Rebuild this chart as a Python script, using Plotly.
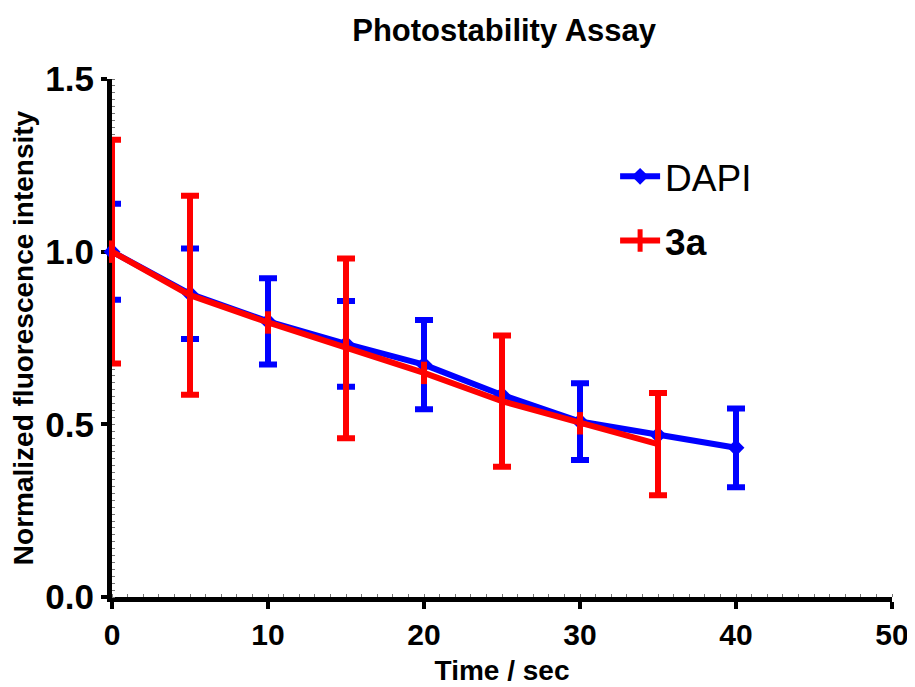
import plotly.graph_objects as go

# Data
time_dapi = [0, 5, 10, 15, 20, 25, 30, 35, 40]
dapi = [1.0, 0.878, 0.798, 0.733, 0.673, 0.585, 0.508, 0.469, 0.432]
dapi_err_time = [0, 5, 10, 15, 20, 30, 40]
dapi_err_mean = [1.0, 0.878, 0.798, 0.733, 0.673, 0.508, 0.432]
dapi_err = [0.139, 0.131, 0.125, 0.124, 0.129, 0.111, 0.114]

time_3a = [0, 5, 10, 15, 20, 25, 30, 35]
a3 = [1.0, 0.874, 0.795, 0.72, 0.649, 0.567, 0.503, 0.443]
a3_err_time = [0, 5, 15, 25, 35]
a3_err_mean = [1.0, 0.874, 0.72, 0.567, 0.443]
a3_err = [0.324, 0.288, 0.26, 0.19, 0.148]

BLUE = "#0000FF"
RED = "#FF0000"
FONT = "Liberation Sans, Arial, sans-serif"

fig = go.Figure()

fig.add_trace(go.Scatter(
    x=dapi_err_time, y=dapi_err_mean, mode="markers",
    marker=dict(size=1, color=BLUE, opacity=0),
    error_y=dict(type="data", array=dapi_err, visible=True, color=BLUE, thickness=6, width=9),
    showlegend=False, hoverinfo="skip", cliponaxis=False))
fig.add_trace(go.Scatter(
    x=time_dapi, y=dapi, mode="lines+markers", name="DAPI",
    line=dict(color=BLUE, width=6),
    marker=dict(symbol="diamond", size=13, color=BLUE),
    legendgroup="g1", cliponaxis=False))

fig.add_trace(go.Scatter(
    x=a3_err_time, y=a3_err_mean, mode="markers",
    marker=dict(size=1, color=RED, opacity=0),
    error_y=dict(type="data", array=a3_err, visible=True, color=RED, thickness=6, width=9),
    showlegend=False, hoverinfo="skip", cliponaxis=False))
fig.add_trace(go.Scatter(
    x=time_3a, y=a3, mode="lines+markers", name="<b>3a</b>",
    line=dict(color=RED, width=6),
    marker=dict(symbol="line-ns", size=16, color=RED, line=dict(color=RED, width=6)),
    legendgroup="g2", cliponaxis=False))

fig.update_layout(
    width=907, height=679,
    paper_bgcolor="white", plot_bgcolor="white",
    margin=dict(l=104, r=23, t=71, b=90),
    title=dict(text="<b>Photostability Assay</b>", x=0.547, xanchor="center",
               y=0.968, yanchor="middle", font=dict(family=FONT, size=31, color="black")),
    font=dict(family=FONT, color="black"),
    showlegend=True,
    legend=dict(x=0.645, y=0.871, xanchor="left", yanchor="top",
                font=dict(family=FONT, size=37, color="black"),
                bgcolor="rgba(0,0,0,0)", tracegroupgap=13,
                itemwidth=40),
)

fig.update_xaxes(
    range=[0, 50], dtick=10, tick0=0, automargin=False, layer="below traces",
    showline=True, linecolor="black", linewidth=5,
    ticks="outside", ticklen=7, tickwidth=4, tickcolor="black",
    showgrid=False, zeroline=False,
    tickfont=dict(family=FONT, size=30, color="black"),
    tickprefix="<b>", ticksuffix="</b>",
    title=dict(text="<b>Time / sec</b>", font=dict(family=FONT, size=28, color="black"), standoff=12),
    minor=dict(dtick=1, ticks="inside", ticklen=3, tickwidth=1, tickcolor="#777"),
)
fig.update_yaxes(
    range=[0, 1.5], dtick=0.5, tick0=0, tickformat=".1f", automargin=False, layer="below traces",
    showline=True, linecolor="black", linewidth=5,
    ticks="outside", ticklen=6, tickwidth=4, tickcolor="black",
    showgrid=False, zeroline=False,
    tickfont=dict(family=FONT, size=35, color="black"),
    tickprefix="<b>", ticksuffix="</b>",
    title=dict(text="<b>Normalized fluorescence intensity</b>", font=dict(family=FONT, size=28, color="black"), standoff=9),
    minor=dict(dtick=0.02, ticks="inside", ticklen=3, tickwidth=1, tickcolor="#777"),
)

fig.write_html("out.html")
